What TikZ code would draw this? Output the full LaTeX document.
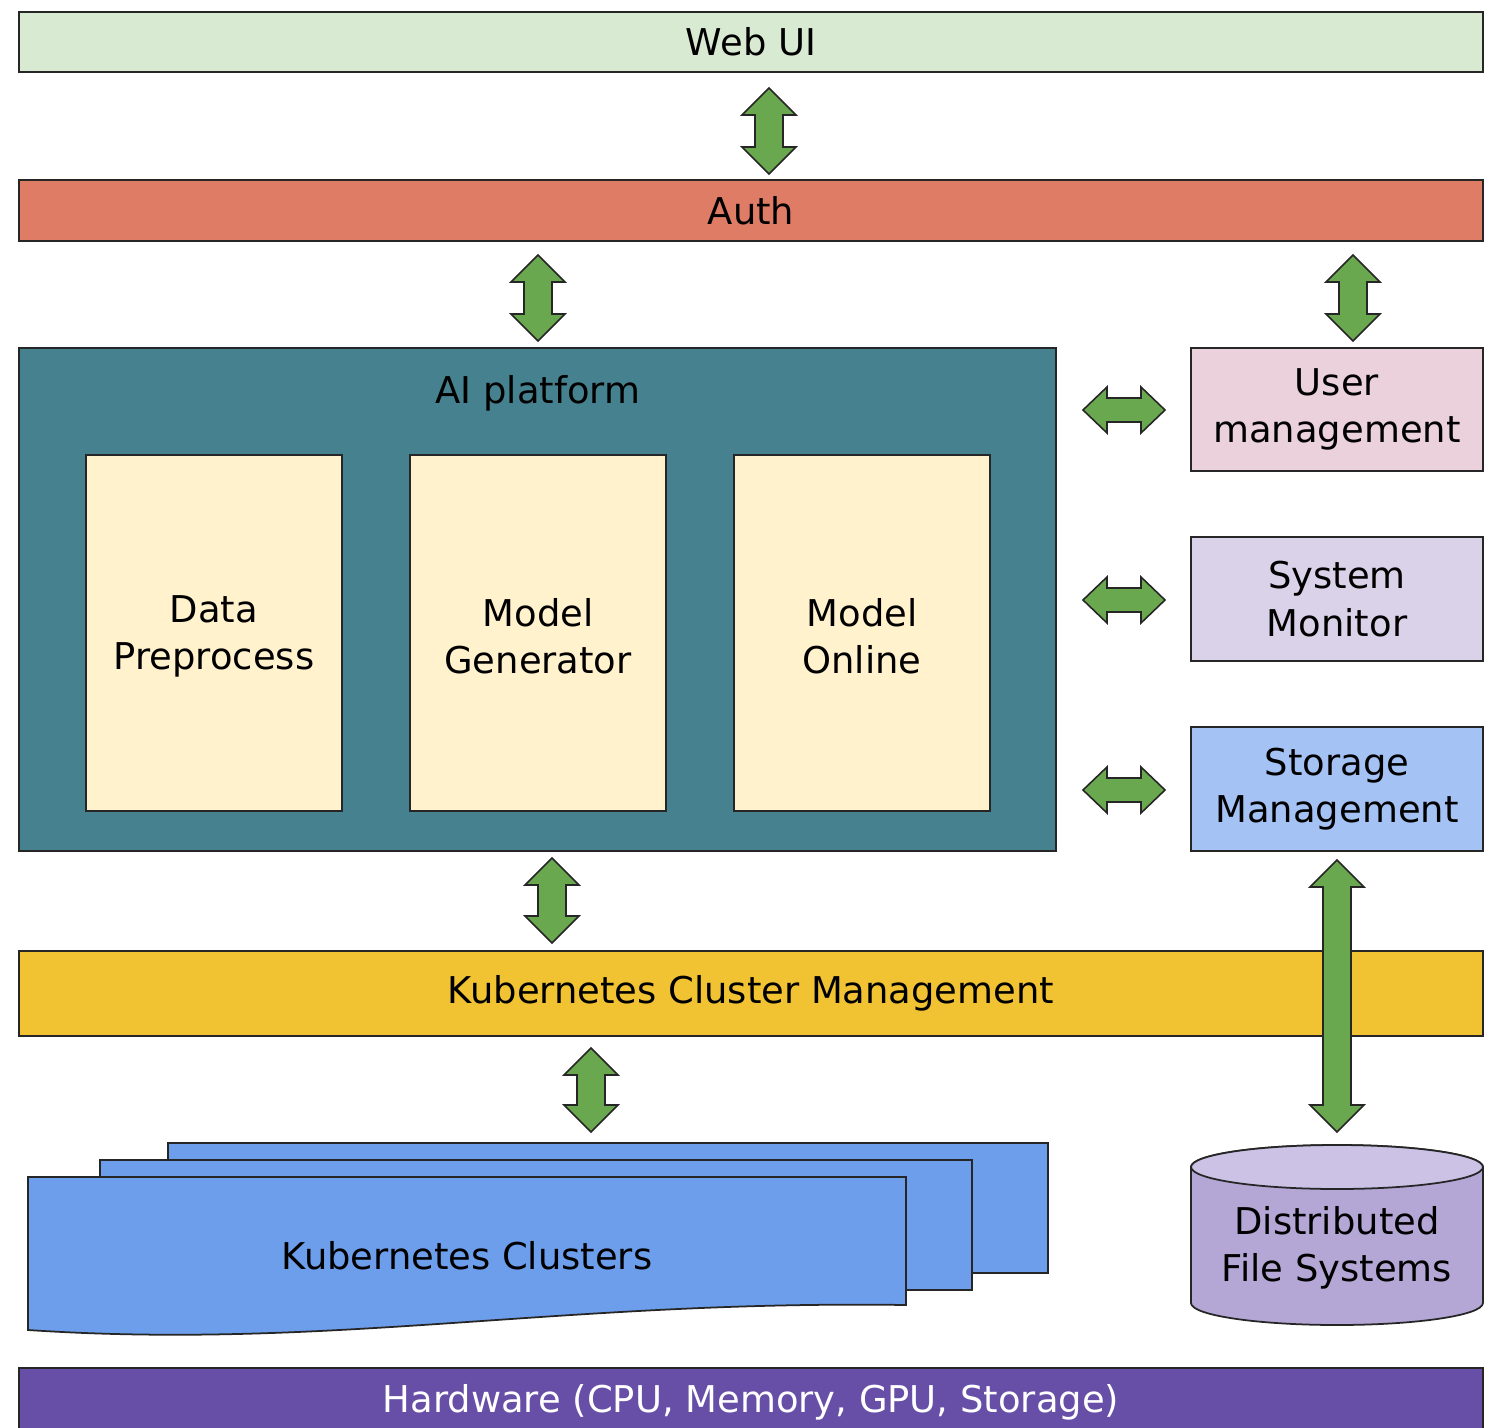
\documentclass[tikz,border=0pt]{standalone}
\usepackage{fontspec}
\setmainfont{DejaVu Sans}
\usetikzlibrary{fit}
\definecolor{webuiC}{HTML}{D9EAD3}
\definecolor{authC}{HTML}{DF7C66}
\definecolor{aiC}{HTML}{45818E}
\definecolor{yelC}{HTML}{FFF2CC}
\definecolor{userC}{HTML}{EAD1DC}
\definecolor{monC}{HTML}{D9D2E9}
\definecolor{stoC}{HTML}{A4C2F4}
\definecolor{k8sC}{HTML}{F1C232}
\definecolor{clC}{HTML}{6D9EEB}
\definecolor{dfsC}{HTML}{B4A7D6}
\definecolor{dfsTopC}{HTML}{CBC2E6}
\definecolor{hwC}{HTML}{674EA7}
\definecolor{arrC}{HTML}{6AA84F}
\newcommand{\VArr}[3]{%
  \draw[arr] (#1,#2) -- (#1+27,#2+27) -- (#1+14,#2+27) -- (#1+14,#3-27) -- (#1+27,#3-27)
    -- (#1,#3) -- (#1-27,#3-27) -- (#1-14,#3-27) -- (#1-14,#2+27) -- (#1-27,#2+27) -- cycle;}
\newcommand{\HArr}[3]{%
  \draw[arr] (#1,#3) -- (#1+24,#3-23) -- (#1+24,#3-12) -- (#2-24,#3-12) -- (#2-24,#3-23)
    -- (#2,#3) -- (#2-24,#3+23) -- (#2-24,#3+12) -- (#1+24,#3+12) -- (#1+24,#3+23) -- cycle;}
\begin{document}
\begin{tikzpicture}[x=0.02cm,y=-0.02cm,
  txt/.style={font=\fontsize{21}{27}\selectfont, align=center, inner sep=0pt},
  box/.style={draw=black!85, line width=1pt, inner sep=0pt},
  arr/.style={draw=black!85, line width=0.9pt, fill=arrC, line join=miter},
  shape line/.style={draw=black!85, line width=1pt}]
\useasboundingbox (0,0) rectangle (1498,1427);
\fill[white] (0,0) rectangle (1498,1427);
\clip (0,0) rectangle (1498,1427);

% layers
\node[box, fill=webuiC, fit={(19,12) (1483,72)}] (webui) {};
\node[txt] (webuit) at (webui.center) {Web UI};
\node[box, fill=authC, fit={(19,180) (1483,241)}] (auth) {};
\node[txt] (autht) at (auth.center) {Auth};
\node[box, fill=aiC, fit={(19,348) (1056,851)}] (ai) {};
\node[txt, text=black] (ailabel) at (538,393) {AI platform};
\node[box, fill=yelC, fit={(86,455) (342,811)}] (dp) {};
\node[txt] (dpt) at ([yshift=-2]dp.center) {Data\\Preprocess};
\node[box, fill=yelC, fit={(410,455) (666,811)}] (mg) {};
\node[txt] (mgt) at ([yshift=-2]mg.center) {Model\\Generator};
\node[box, fill=yelC, fit={(734,455) (990,811)}] (mo) {};
\node[txt] (mot) at ([yshift=-2]mo.center) {Model\\Online};
\node[box, fill=userC, fit={(1191,348) (1483,471)}] (um) {};
\node[txt] (umt) at (um.center) {User\\management};
\node[box, fill=monC, fit={(1191,537) (1483,661)}] (sm) {};
\node[txt] (smt) at (sm.center) {System\\Monitor};
\node[box, fill=stoC, fit={(1191,727) (1483,851)}] (stm) {};
\node[txt] (stmt) at (stm.center) {Storage\\Management};
\node[box, fill=k8sC, fit={(19,951) (1483,1036)}] (kcm) {};
\node[txt] (kcmt) at (kcm.center) {Kubernetes Cluster Management};
\node[box, fill=hwC, fit={(19,1368) (1483,1436)}] (hw) {};
\node[txt, text=white] (hwt) at (hw.center) {Hardware (CPU, Memory, GPU, Storage)};

% kubernetes clusters stack
\draw[shape line, fill=clC] (168,1143) rectangle (1048,1273);
\draw[shape line, fill=clC] (100,1160) rectangle (972,1290);
\draw[shape line, fill=clC] (28,1177) -- (906,1177) -- (906,1305)
   .. controls (560,1300) and (330,1350) .. (28,1330) -- cycle;
\node[txt] (kc) at (467,1256) {Kubernetes Clusters};

% distributed file systems cylinder
\draw[shape line, fill=dfsC] (1191,1167) -- (1191,1303)
   arc[start angle=180, end angle=360, x radius=2.92cm, y radius=0.44cm]
   -- (1483,1167) arc[start angle=0, end angle=180, x radius=2.92cm, y radius=0.44cm] -- cycle;
\draw[shape line, fill=dfsTopC] (1337,1167) ellipse [x radius=2.92cm, y radius=0.44cm];
\node[txt] (dfs) at (1337,1248) {Distributed\\File Systems};

% block arrows
\VArr{769}{88}{174}
\VArr{538}{255}{341}
\VArr{1353}{255}{341}
\VArr{552}{858}{943}
\VArr{591}{1048}{1132}
\VArr{1337}{860}{1132}
\HArr{1083}{1165}{410}
\HArr{1083}{1165}{600}
\HArr{1083}{1165}{790}
\end{tikzpicture}
\end{document}
